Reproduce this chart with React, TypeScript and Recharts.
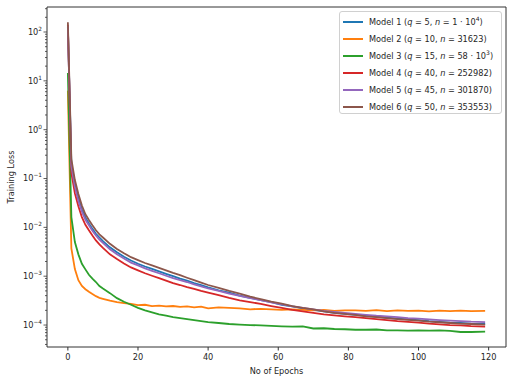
import React from "react";
import { LineChart, Line, XAxis, YAxis, Legend, ReferenceLine } from "recharts";

const epochs = [0,1,2,3,4,5,6,7,8,9,10,12,14,16,18,20,22,24,26,28,30,32,34,36,38,40,43,46,49,52,55,58,61,64,67,70,73,76,79,82,85,88,91,94,97,100,103,106,109,112,115,119];

const model1 = [126,0.20,0.076,0.039,0.0235,0.0158,0.012,0.0093,0.0074,0.0062,0.0052,0.0039,0.0031,0.0025,0.0021,0.0018,0.00158,0.00141,0.00126,0.00112,0.001,8.9e-4,8.1e-4,7.2e-4,6.6e-4,5.9e-4,5.1e-4,4.6e-4,4.0e-4,3.6e-4,3.25e-4,2.95e-4,2.6e-4,2.4e-4,2.2e-4,2.04e-4,1.9e-4,1.78e-4,1.7e-4,1.62e-4,1.55e-4,1.48e-4,1.41e-4,1.35e-4,1.3e-4,1.26e-4,1.2e-4,1.16e-4,1.12e-4,1.1e-4,1.07e-4,1.05e-4];
const model2 = [6.3,3.7e-3,1.4e-3,8.3e-4,6.3e-4,5.4e-4,4.8e-4,4.3e-4,3.9e-4,3.6e-4,3.45e-4,3.15e-4,2.95e-4,2.8e-4,2.7e-4,2.55e-4,2.6e-4,2.45e-4,2.5e-4,2.4e-4,2.45e-4,2.35e-4,2.4e-4,2.3e-4,2.38e-4,2.2e-4,2.3e-4,2.25e-4,2.2e-4,2.1e-4,2.15e-4,2.1e-4,2.05e-4,2.1e-4,2.05e-4,2.0e-4,2.05e-4,1.95e-4,2.0e-4,2.0e-4,1.95e-4,2.02e-4,1.92e-4,2.0e-4,1.95e-4,1.98e-4,1.9e-4,1.97e-4,1.93e-4,1.97e-4,1.92e-4,1.95e-4];
const model3 = [14.5,0.0162,0.005,0.0028,0.0018,0.00138,0.00107,8.9e-4,7.6e-4,6.3e-4,5.6e-4,4.5e-4,3.55e-4,3.0e-4,2.6e-4,2.25e-4,2.0e-4,1.82e-4,1.66e-4,1.55e-4,1.45e-4,1.38e-4,1.32e-4,1.26e-4,1.2e-4,1.15e-4,1.1e-4,1.05e-4,1.02e-4,1.0e-4,9.8e-5,9.6e-5,9.4e-5,9.3e-5,9.35e-5,8.5e-5,8.6e-5,8.3e-5,8.2e-5,8.0e-5,8.0e-5,8.1e-5,7.8e-5,7.8e-5,7.7e-5,7.8e-5,7.7e-5,7.75e-5,7.6e-5,7.2e-5,7.2e-5,7.3e-5];
const model4 = [141,0.13,0.05,0.027,0.0162,0.0113,0.0087,0.0068,0.0054,0.0045,0.0038,0.0028,0.00224,0.00182,0.00151,0.00132,0.00115,0.00102,9.1e-4,8.1e-4,7.2e-4,6.6e-4,6.0e-4,5.5e-4,5.0e-4,4.6e-4,4.1e-4,3.6e-4,3.2e-4,2.95e-4,2.7e-4,2.45e-4,2.24e-4,2.04e-4,1.9e-4,1.78e-4,1.66e-4,1.58e-4,1.51e-4,1.45e-4,1.38e-4,1.32e-4,1.26e-4,1.2e-4,1.16e-4,1.12e-4,1.07e-4,1.035e-4,1.0e-4,9.8e-5,9.5e-5,9.3e-5];
const model5 = [132,0.178,0.068,0.0345,0.021,0.0143,0.011,0.0085,0.0068,0.0056,0.0048,0.00355,0.0028,0.0023,0.0019,0.00166,0.00145,0.00129,0.00115,0.00102,9.1e-4,8.3e-4,7.6e-4,6.8e-4,6.2e-4,5.6e-4,5.0e-4,4.4e-4,3.95e-4,3.55e-4,3.25e-4,2.9e-4,2.65e-4,2.4e-4,2.24e-4,2.1e-4,1.95e-4,1.86e-4,1.78e-4,1.7e-4,1.62e-4,1.55e-4,1.5e-4,1.45e-4,1.38e-4,1.35e-4,1.3e-4,1.26e-4,1.23e-4,1.2e-4,1.17e-4,1.15e-4];
const model6 = [158,0.25,0.093,0.048,0.028,0.0185,0.0141,0.011,0.0087,0.0072,0.0062,0.0046,0.0036,0.00295,0.00245,0.00214,0.00186,0.00166,0.00148,0.00132,0.00117,0.00105,9.3e-4,8.3e-4,7.4e-4,6.6e-4,5.75e-4,5.0e-4,4.4e-4,3.8e-4,3.4e-4,3.0e-4,2.75e-4,2.45e-4,2.24e-4,2.1e-4,1.9e-4,1.78e-4,1.7e-4,1.62e-4,1.51e-4,1.45e-4,1.38e-4,1.32e-4,1.27e-4,1.23e-4,1.17e-4,1.14e-4,1.1e-4,1.07e-4,1.05e-4,1.02e-4];

const seriesKeys = ["m1", "m2", "m3", "m4", "m5", "m6"];
const seriesColors = ["#1f77b4", "#ff7f0e", "#2ca02c", "#d62728", "#9467bd", "#8c564b"];
const legendQ = ["5", "10", "15", "40", "45", "50"];
const legendN = ["1 · 10^4", "31623", "58 · 10^3", "252982", "301870", "353553"];

const xTicks = [0, 20, 40, 60, 80, 100, 120];
const yMajorExps = [-4, -3, -2, -1, 0, 1, 2];

const X_MIN = -5.95, X_MAX = 124.95;
const Y_MIN = 3.55e-5, Y_MAX = 325;
const FONT = "'DejaVu Sans', sans-serif";
const TXT = "#262626";
const AX = "#333";
const FS = 8.2;

const allSeries = [model1, model2, model3, model4, model5, model6];
const data = epochs.map((e, i) => {
  const row: any = { epoch: e };
  seriesKeys.forEach((k, j) => { row[k] = allSeries[j][i]; });
  return row;
});

const yMinor: number[] = [];
for (let k = -5; k <= 2; k++) {
  for (let m = 2; m <= 9; m++) {
    const v = m * Math.pow(10, k);
    if (v > Y_MIN && v < Y_MAX) yMinor.push(v);
  }
}
const yTicks = [...yMajorExps.map((k) => Math.pow(10, k)), ...yMinor].sort((a, b) => a - b);

const Y_TICK_SIZE = 3.5;
const Y_TICK_MARGIN = 1.5;

function YTick(props: any) {
  const { x, y, payload } = props;
  const v = payload.value;
  const lg = Math.log10(v);
  const exp = Math.round(lg);
  const major = Math.abs(lg - exp) < 1e-6;
  const ax = x + Y_TICK_SIZE + Y_TICK_MARGIN;
  return (
    <g>
      <line x1={ax} x2={ax - (major ? 3.5 : 2)} y1={y} y2={y} stroke={AX} strokeWidth={0.8} />
      {major && (
        <text x={x} y={y} dy="0.35em" textAnchor="end" fontSize={FS} fill={TXT} fontFamily={FONT}>
          10
          <tspan dy={-4} fontSize={5.8}>{exp < 0 ? "\u2212" + -exp : String(exp)}</tspan>
        </text>
      )}
    </g>
  );
}

function renderN(s: string) {
  const parts = s.split("^");
  if (parts.length === 1) return <>{s}</>;
  return (
    <>
      {parts[0]}
      <sup style={{ fontSize: 6, lineHeight: 0 }}>{parts[1]}</sup>
    </>
  );
}

function LegendBox() {
  return (
    <div
      style={{
        width: 163,
        height: 103,
        boxSizing: "border-box",
        border: "1px solid #d0d0d0",
        borderRadius: 3,
        background: "rgba(255,255,255,0.85)",
        paddingTop: 1,
        fontFamily: FONT,
        fontSize: FS,
        color: TXT,
      }}
    >
      {seriesKeys.map((k, i) => (
        <div key={k} style={{ height: 17, display: "flex", alignItems: "center", whiteSpace: "nowrap" }}>
          <div style={{ width: 20, height: 2, background: seriesColors[i], marginLeft: 3, marginRight: 6, flexShrink: 0 }} />
          <span>
            Model {i + 1} (<i>q</i> = {legendQ[i]}, <i>n</i> = {renderN(legendN[i])})
          </span>
        </div>
      ))}
    </div>
  );
}

export default function App() {
  return (
    <div style={{ position: "absolute", left: 0, top: 0, width: 512, height: 382, background: "#fff" }}>
      <LineChart width={512} height={382} data={data} margin={{ top: 7, right: 6, left: 0, bottom: 0 }}>
        <XAxis
          dataKey="epoch"
          type="number"
          domain={[X_MIN, X_MAX]}
          allowDataOverflow
          ticks={xTicks}
          interval={0}
          height={35}
          stroke={AX}
          tickSize={3.5}
          tickMargin={3.5}
          tick={{ fontSize: FS, fill: TXT, fontFamily: FONT }}
          label={{
            content: () => (
              <text x={276.5} y={373.5} textAnchor="middle" fontSize={FS} fill={TXT} fontFamily={FONT}>
                No of Epochs
              </text>
            ),
          }}
        />
        <YAxis
          scale="log"
          domain={[Y_MIN, Y_MAX]}
          allowDataOverflow
          ticks={yTicks}
          interval={0}
          width={47}
          stroke={AX}
          tickLine={false}
          tickSize={Y_TICK_SIZE}
          tickMargin={Y_TICK_MARGIN}
          tick={<YTick />}
          label={{
            content: () => (
              <text
                x={13.5}
                y={177}
                transform="rotate(-90 13.5 177)"
                textAnchor="middle"
                fontSize={FS}
                fill={TXT}
                fontFamily={FONT}
              >
                Training Loss
              </text>
            ),
          }}
        />
        <ReferenceLine x={X_MAX} stroke={AX} strokeWidth={1} ifOverflow="extendDomain" />
        <ReferenceLine y={Y_MAX} stroke={AX} strokeWidth={1} ifOverflow="extendDomain" />
        {seriesKeys.map((k, i) => (
          <Line
            key={k}
            dataKey={k}
            stroke={seriesColors[i]}
            strokeWidth={1.8}
            dot={false}
            type="linear"
            isAnimationActive={false}
          />
        ))}
        <Legend
          layout="horizontal"
          verticalAlign="middle"
          align="center"
          wrapperStyle={{ left: 339, top: 11, width: 163, height: 103 }}
          content={() => <LegendBox />}
        />
      </LineChart>
    </div>
  );
}
